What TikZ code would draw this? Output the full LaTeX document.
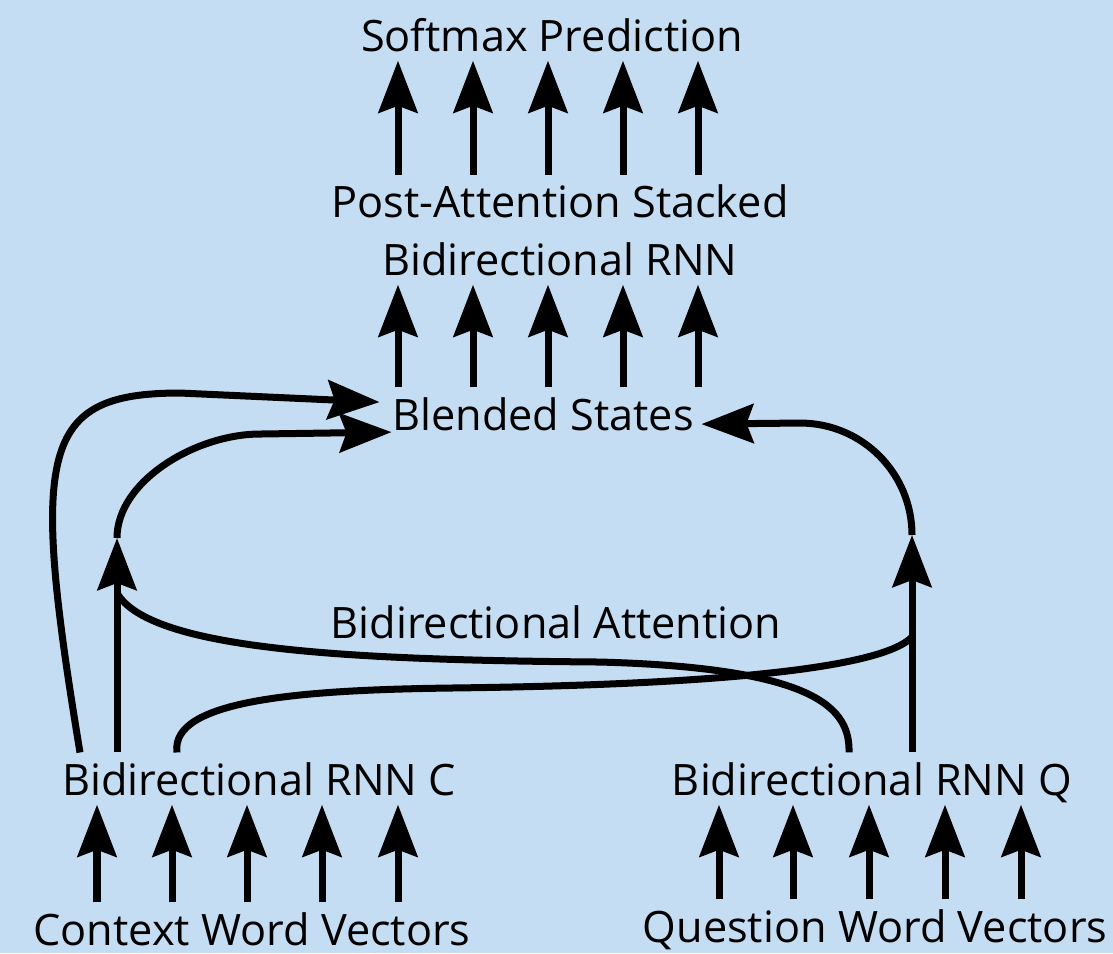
\documentclass[tikz,border=0pt]{standalone}
\usepackage{fontspec}
\setmainfont{Open Sans}
\usetikzlibrary{arrows.meta}
\definecolor{bgblue}{RGB}{197,221,242}
\begin{document}
\begin{tikzpicture}[x=0.01cm, y=-0.01cm]
    \tikzstyle{layer} = [inner xsep=0pt, inner ysep=0.09cm, text depth=0pt, anchor=base, align=center, font=\fontsize{12.3}{16.4}\selectfont]
    \tikzstyle{wire} = [line width=0.07cm]
    \tikzstyle{arrow} = [wire, -{Stealth[length=0.52cm, width=0.39cm, inset=0.07cm]}]

    \fill[bgblue] (0,0) rectangle (1113,953);
    \useasboundingbox (0,0) rectangle (1113,953);

    \node [layer] (sm) at (552,51) {Softmax Prediction};
    \node [layer] (pa) at (560,275) {Post-Attention Stacked\\Bidirectional RNN};
    \node [layer] (bs) at (543,430) {Blended States};
    \node [layer] (att) at (556,638) {Bidirectional Attention};
    \node [layer] (rnnc) at (259,795) {Bidirectional RNN C};
    \node [layer] (rnnq) at (872,795) {Bidirectional RNN Q};
    \node [layer] (cwv) at (252,945) {Context Word Vectors};
    \node [layer] (qwv) at (875,942) {Question Word Vectors};

    % stacked arrows between layers
    \foreach \x in {398,473,548,623,698} {
        \draw [arrow] (\x,0 |- pa.north) -- (\x,0 |- sm.south);
        \draw [arrow] (\x,0 |- bs.north) -- (\x,0 |- pa.south);
    }
    \foreach \x in {97,172,247,322,398}
        \draw [arrow] (\x,0 |- cwv.north) -- (\x,0 |- rnnc.south);
    \foreach \x in {719,793,869,945,1021}
        \draw [arrow] (\x,0 |- qwv.north) -- (\x,0 |- rnnq.south);

    \coordinate (cup) at (117,538);
    \coordinate (cfork) at (117,593);
    \coordinate (qup) at (912,535);
    \coordinate (qfork) at (912,637);

    % context side into the blended states
    \draw [arrow] (80,0 |- rnnc.north) .. controls (30,450) and (40,393) .. (180,393) -- ([xshift=-0.12cm, yshift=0.115cm]bs.west);
    \draw [arrow] (117,0 |- rnnc.north) -- (cup);
    \draw [arrow] (cup) .. controls (117,481) and (196,434) .. (260,434) -- ([yshift=-0.185cm]bs.west);

    % question side
    \draw [arrow] (912,0 |- rnnq.north) -- (qup);
    \draw [arrow] (qup) .. controls (912,473) and (862,423) .. (800,423) -- ([xshift=0.07cm, yshift=-0.105cm]bs.east);

    % attention links
    \draw [wire] (cfork) .. controls (150,650) and (350,660) .. (600,662) .. controls (820,668) and (850,710) .. (849,0 |- rnnq.north);
    \draw [wire] (177,0 |- rnnc.north) .. controls (170,700) and (300,690) .. (450,688) .. controls (700,685) and (880,670) .. (qfork);
\end{tikzpicture}
\end{document}
